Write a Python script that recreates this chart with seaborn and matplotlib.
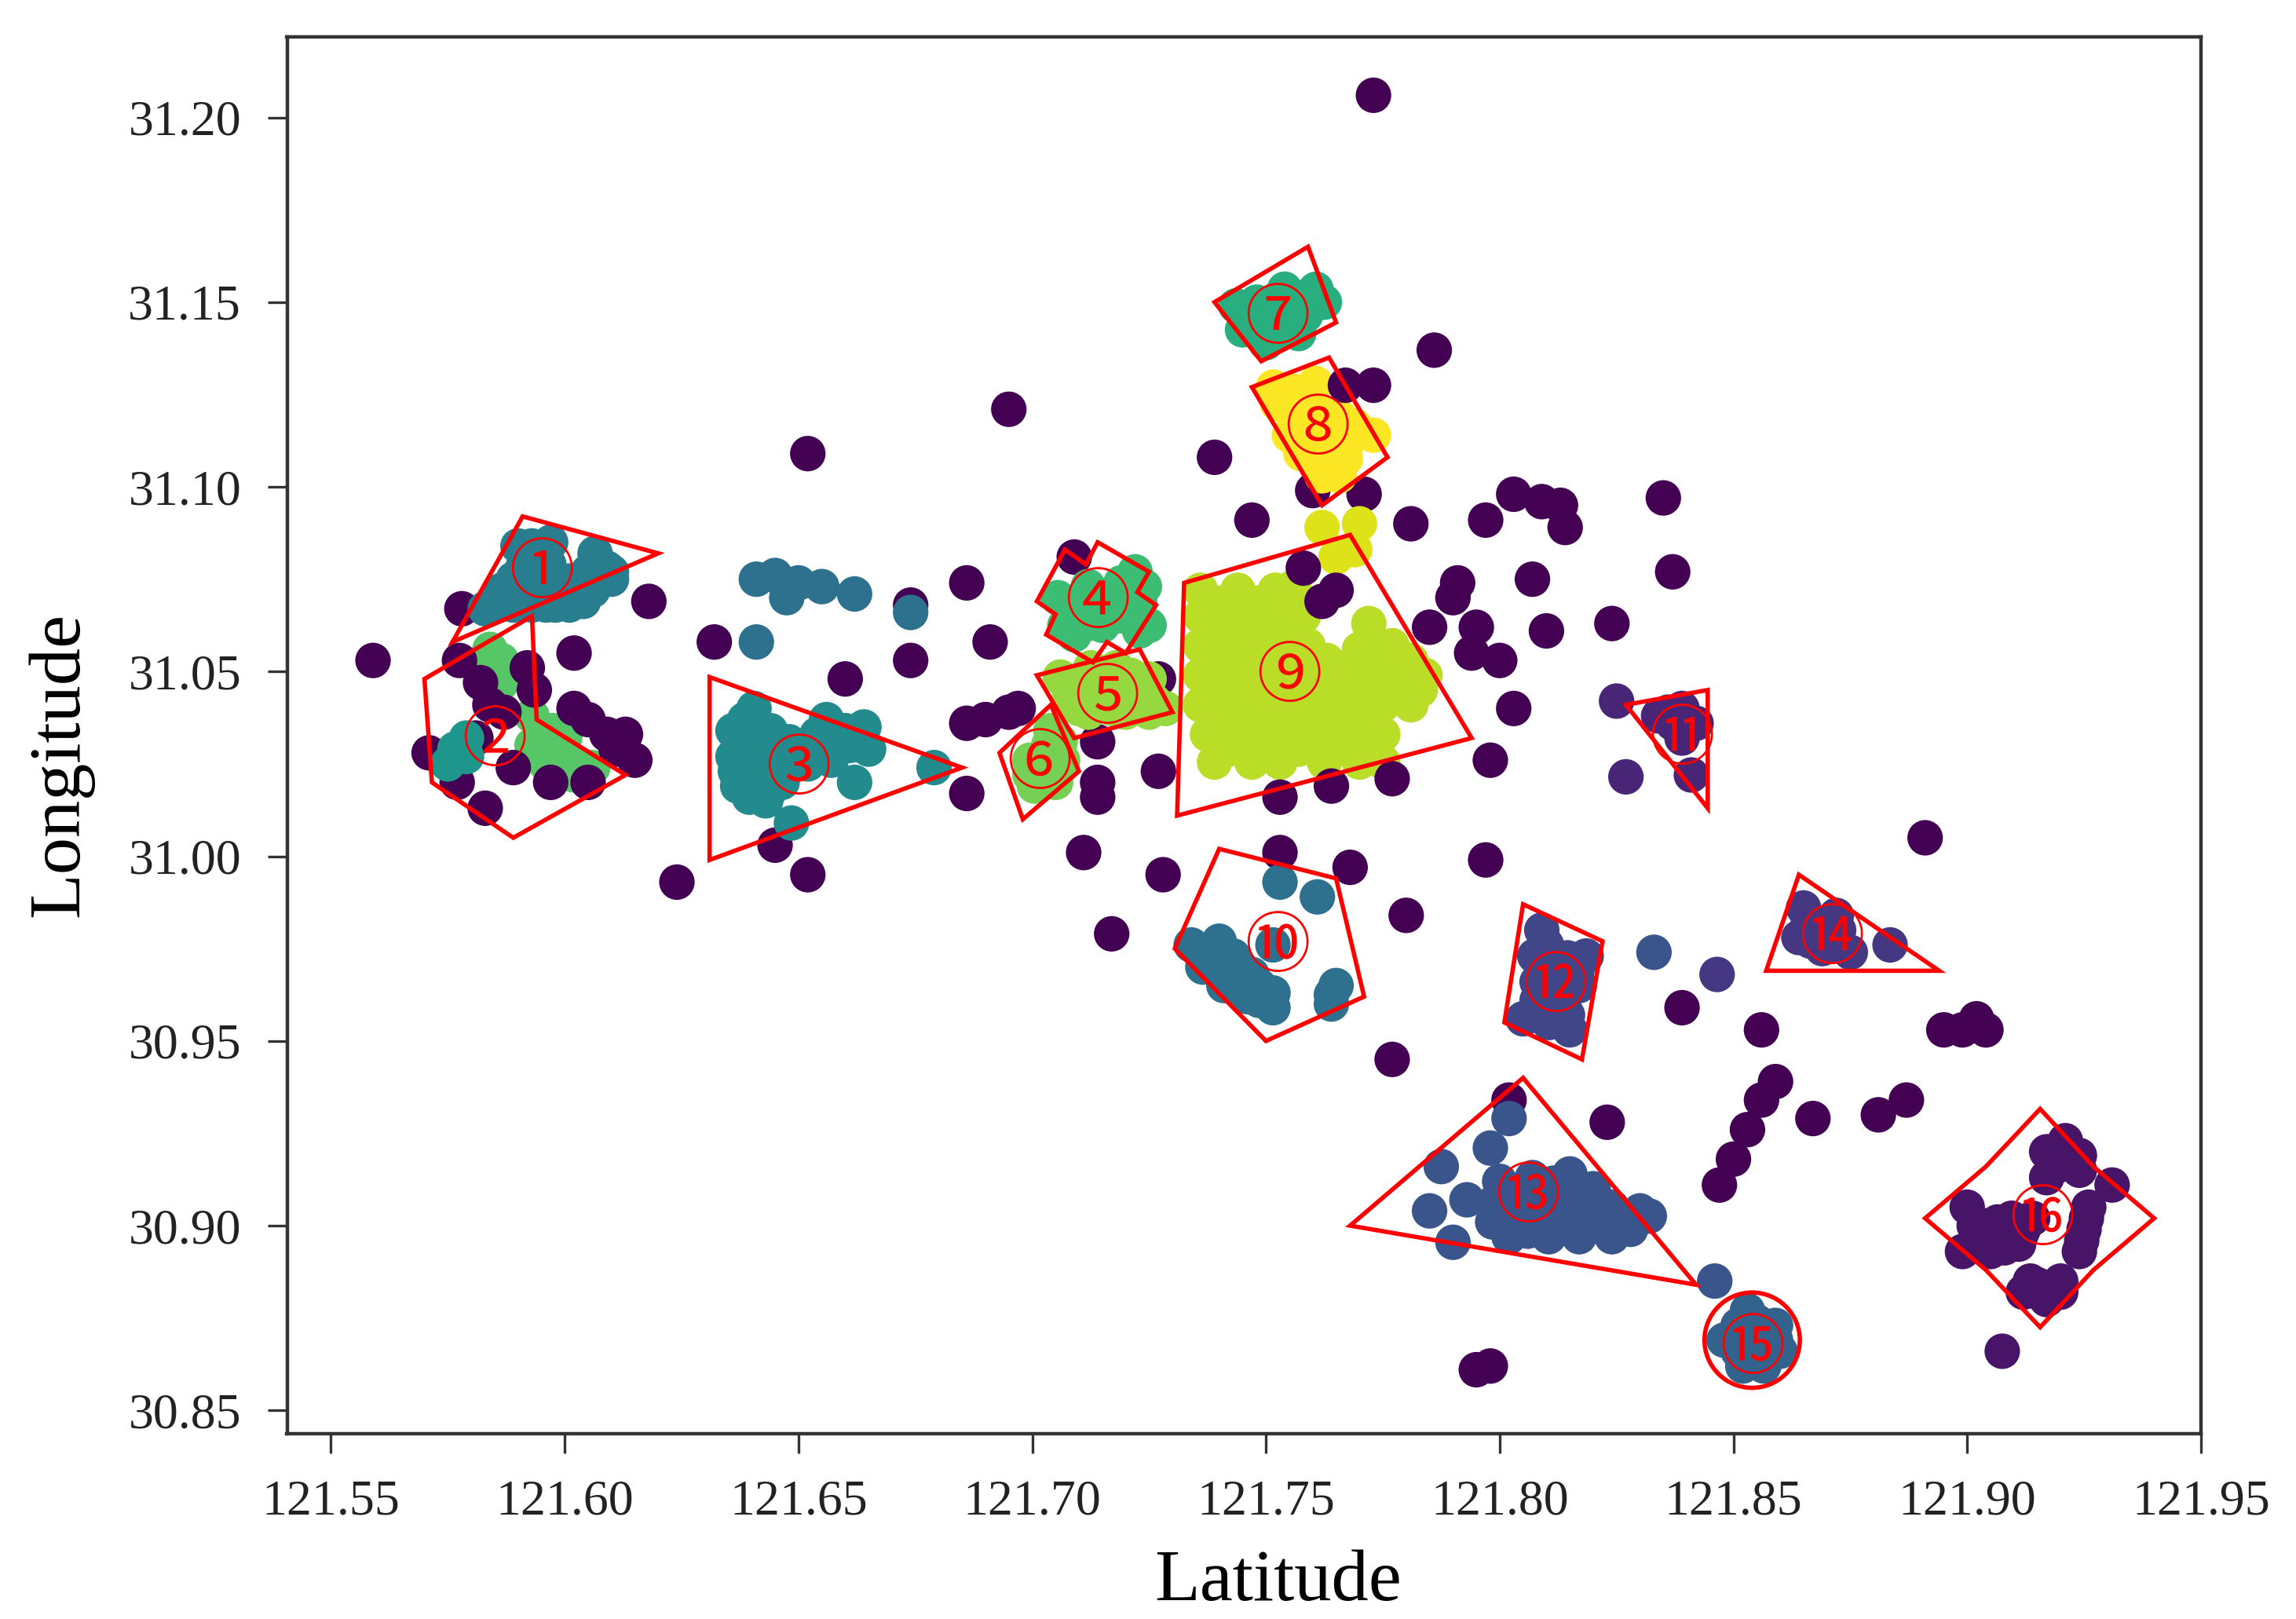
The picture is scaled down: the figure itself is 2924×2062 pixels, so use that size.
import pandas as pd
import seaborn as sns
import matplotlib.pyplot as plt
from matplotlib.patches import Polygon, Ellipse

# points as (longitude axis value, latitude axis value)
noise_back = [(121.760, 31.099), (121.771, 31.098), (121.802, 30.934)]
noise = [
    (121.559, 31.053), (121.773, 31.206), (121.786, 31.137), (121.773, 31.1275), (121.767, 31.1275),
    (121.695, 31.121), (121.652, 31.109), (121.739, 31.108), (121.747, 31.091), (121.781, 31.090),
    (121.797, 31.091), (121.803, 31.098), (121.809, 31.096), (121.813, 31.095), (121.814, 31.089),
    (121.835, 31.097), (121.837, 31.077), (121.807, 31.075), (121.810, 31.061), (121.824, 31.063),
    (121.791, 31.074), (121.790, 31.070), (121.795, 31.062), (121.785, 31.062), (121.794, 31.055),
    (121.800, 31.053), (121.803, 31.040), (121.798, 31.026), (121.618, 31.069), (121.602, 31.055),
    (121.578, 31.067), (121.632, 31.058), (121.660, 31.048), (121.674, 31.053), (121.674, 31.068),
    (121.686, 31.074), (121.691, 31.058), (121.709, 31.081), (121.686, 31.036), (121.690, 31.037),
    (121.695, 31.039), (121.697, 31.040), (121.686, 31.017), (121.645, 31.003), (121.652, 30.995),
    (121.624, 30.993), (121.714, 31.031), (121.714, 31.020), (121.714, 31.016), (121.727, 31.023),
    (121.727, 31.048), (121.711, 31.001), (121.728, 30.995), (121.717, 30.979), (121.753, 31.016),
    (121.764, 31.019), (121.777, 31.021), (121.753, 31.001), (121.768, 30.997), (121.780, 30.984),
    (121.797, 30.999), (121.777, 30.945), (121.839, 30.959), (121.856, 30.953), (121.859, 30.939),
    (121.856, 30.934), (121.853, 30.926), (121.850, 30.918), (121.847, 30.911), (121.867, 30.929),
    (121.881, 30.930), (121.887, 30.934), (121.823, 30.928), (121.891, 31.005), (121.895, 30.953),
    (121.899, 30.953), (121.902, 30.956), (121.904, 30.953), (121.795, 30.861), (121.798, 30.862),
    (121.758, 31.078), (121.762, 31.069), (121.765, 31.072),
    (121.5775, 31.053), (121.582, 31.047), (121.584, 31.041), (121.587, 31.039), (121.581, 31.032),
    (121.592, 31.051), (121.5935, 31.045), (121.602, 31.040), (121.605, 31.037), (121.609, 31.033),
    (121.613, 31.033), (121.615, 31.026), (121.611, 31.029), (121.589, 31.024), (121.597, 31.020),
    (121.605, 31.020), (121.577, 31.020), (121.571, 31.028), (121.583, 31.013),
]
area_1 = [
    (121.590, 31.084), (121.597, 31.085), (121.6065, 31.082), (121.610, 31.077), (121.589, 31.075),
    (121.583, 31.067), (121.589, 31.068), (121.596, 31.068), (121.604, 31.069), (121.606, 31.072),
    (121.595, 31.077), (121.591, 31.078), (121.605, 31.077), (121.610, 31.075), (121.593, 31.084),
    (121.592, 31.079), (121.5966, 31.079), (121.5935, 31.073), (121.598, 31.072), (121.603, 31.071),
    (121.586, 31.068), (121.598, 31.068), (121.609, 31.078), (121.601, 31.0745), (121.5865, 31.072),
    (121.593, 31.068), (121.601, 31.068),
]
area_2 = [
    (121.584, 31.056), (121.584, 31.051), (121.5865, 31.047), (121.593, 31.038), (121.595, 31.033),
    (121.597, 31.029), (121.603, 31.025), (121.605, 31.023), (121.596, 31.025), (121.602, 31.022),
    (121.5865, 31.053), (121.5845, 31.0475), (121.593, 31.030), (121.599, 31.029), (121.601, 31.026),
    (121.597, 31.0235), (121.606, 31.024), (121.5975, 31.034), (121.600, 31.032),
]
area_2_teal = [(121.579, 31.027), (121.575, 31.025), (121.579, 31.032), (121.5765, 31.029)]
area_3 = [
    (121.6405, 31.040), (121.636, 31.034), (121.636, 31.027), (121.637, 31.019), (121.643, 31.015),
    (121.6395, 31.016), (121.644, 31.028), (121.6465, 31.020), (121.650, 31.029), (121.656, 31.037),
    (121.656, 31.031), (121.664, 31.035), (121.665, 31.029), (121.662, 31.020), (121.679, 31.024),
    (121.6485, 31.009), (121.652, 31.025), (121.640, 31.026), (121.640, 31.033), (121.644, 31.034),
    (121.648, 31.031), (121.640, 31.021), (121.644, 31.023), (121.648, 31.024), (121.653, 31.028),
    (121.657, 31.026), (121.661, 31.030), (121.654, 31.033), (121.644, 31.018), (121.660, 31.034),
    (121.6365, 31.023), (121.6385, 31.037),
]
area_3_upper = [
    (121.641, 31.075), (121.645, 31.076), (121.6475, 31.070), (121.650, 31.074), (121.655, 31.073),
    (121.662, 31.071), (121.674, 31.066), (121.641, 31.058),
]
area_4 = [
    (121.722, 31.077), (121.712, 31.073), (121.7055, 31.070), (121.707, 31.0625), (121.709, 31.060),
    (121.715, 31.0625), (121.725, 31.0625), (121.723, 31.069), (121.717, 31.069), (121.711, 31.067),
    (121.7215, 31.064), (121.708, 31.066), (121.713, 31.068), (121.718, 31.065), (121.712, 31.063),
    (121.721, 31.072), (121.724, 31.073), (121.719, 31.074), (121.723, 31.061),
]
area_5 = [
    (121.706, 31.0485), (121.7125, 31.051), (121.718, 31.051), (121.725, 31.048), (121.708, 31.043),
    (121.712, 31.039), (121.717, 31.040), (121.725, 31.039), (121.718, 31.045), (121.724, 31.044),
    (121.709, 31.047), (121.713, 31.044), (121.717, 31.046), (121.721, 31.049), (121.721, 31.042),
    (121.715, 31.041), (121.710, 31.040), (121.712, 31.047), (121.726, 31.042), (121.7285, 31.040),
    (121.720, 31.039),
]
area_6 = [
    (121.704, 31.034), (121.6995, 31.026), (121.7065, 31.026), (121.7005, 31.019), (121.705, 31.020),
    (121.7035, 31.024), (121.7035, 31.030), (121.6995, 31.022), (121.706, 31.031),
]
area_7 = [
    (121.7436, 31.149), (121.754, 31.1535), (121.7607, 31.1535), (121.748, 31.150), (121.745, 31.1425),
    (121.750, 31.139), (121.757, 31.1415), (121.756, 31.148), (121.751, 31.146), (121.7475, 31.145),
    (121.752, 31.1505), (121.7475, 31.1475), (121.754, 31.144), (121.7585, 31.1465), (121.755, 31.150),
    (121.7585, 31.1515), (121.7625, 31.150), (121.752, 31.1415), (121.7465, 31.143),
]
area_8 = [
    (121.7516, 31.127), (121.7606, 31.128), (121.755, 31.122), (121.755, 31.114), (121.7616, 31.120),
    (121.7657, 31.119), (121.773, 31.114), (121.768, 31.113), (121.767, 31.1076), (121.7607, 31.111),
    (121.7657, 31.103), (121.762, 31.107), (121.7555, 31.126), (121.758, 31.123), (121.758, 31.117),
    (121.7525, 31.1225), (121.7575, 31.109), (121.7645, 31.1115), (121.769, 31.1165), (121.763, 31.1155),
    (121.762, 31.103),
]
area_8_lower = [(121.762, 31.089), (121.770, 31.090), (121.765, 31.081), (121.769, 31.083)]
area_9 = [
    (121.736, 31.072), (121.744, 31.072), (121.752, 31.072), (121.756, 31.073),
    (121.736, 31.065), (121.744, 31.065), (121.752, 31.065), (121.758, 31.065),
    (121.736, 31.057), (121.744, 31.057), (121.752, 31.057), (121.759, 31.057),
    (121.736, 31.049), (121.744, 31.049), (121.752, 31.049), (121.759, 31.049), (121.767, 31.049),
    (121.775, 31.049), (121.781, 31.049),
    (121.736, 31.041), (121.744, 31.041), (121.752, 31.041), (121.759, 31.041), (121.767, 31.041),
    (121.775, 31.041), (121.781, 31.041),
    (121.7375, 31.033), (121.745, 31.033), (121.753, 31.033), (121.761, 31.033), (121.769, 31.033),
    (121.775, 31.033),
    (121.739, 31.0255), (121.747, 31.0255), (121.753, 31.0255), (121.7625, 31.0255), (121.770, 31.0255),
    (121.775, 31.0255),
    (121.772, 31.063), (121.770, 31.056), (121.777, 31.057), (121.781, 31.053), (121.784, 31.049),
    (121.740, 31.0685), (121.748, 31.0685), (121.754, 31.0685),
    (121.740, 31.061), (121.748, 31.061), (121.755, 31.061),
    (121.740, 31.053), (121.748, 31.053), (121.755, 31.053), (121.763, 31.053), (121.771, 31.053), (121.778, 31.053),
    (121.740, 31.045), (121.748, 31.045), (121.755, 31.045), (121.763, 31.045), (121.771, 31.045), (121.778, 31.045),
    (121.783, 31.045),
    (121.740, 31.037), (121.748, 31.037), (121.755, 31.037), (121.763, 31.037), (121.771, 31.037),
    (121.742, 31.029), (121.749, 31.029), (121.757, 31.029), (121.765, 31.029), (121.772, 31.029),
]
area_10 = [
    (121.734, 30.976), (121.740, 30.977), (121.7365, 30.970), (121.743, 30.973), (121.741, 30.965),
    (121.747, 30.968), (121.7515, 30.959), (121.7515, 30.976), (121.753, 30.993), (121.761, 30.989),
    (121.765, 30.965), (121.764, 30.960), (121.746, 30.962), (121.7375, 30.973), (121.740, 30.971),
    (121.7445, 30.970), (121.7445, 30.965), (121.7485, 30.961), (121.7485, 30.965), (121.743, 30.968),
    (121.7515, 30.963), (121.764, 30.9625),
]
area_11 = [
    (121.825, 31.042), (121.827, 31.0215), (121.834, 31.038), (121.839, 31.040), (121.842, 31.036),
    (121.839, 31.032), (121.841, 31.022), (121.836, 31.039), (121.837, 31.036), (121.840, 31.036),
]
area_12 = [
    (121.809, 30.980), (121.8075, 30.973), (121.8185, 30.973), (121.8135, 30.968), (121.807, 30.957),
    (121.815, 30.953), (121.8125, 30.959), (121.817, 30.965), (121.808, 30.966), (121.805, 30.956),
    (121.810, 30.976), (121.811, 30.971), (121.8165, 30.969), (121.8115, 30.964), (121.814, 30.962),
    (121.8105, 30.960), (121.808, 30.961), (121.8105, 30.955), (121.8145, 30.957), (121.8145, 30.9725),
]
area_13 = [
    (121.802, 30.929), (121.798, 30.921), (121.7875, 30.916), (121.785, 30.904), (121.790, 30.8955),
    (121.793, 30.907), (121.800, 30.912), (121.807, 30.913), (121.815, 30.914), (121.820, 30.910),
    (121.824, 30.905), (121.830, 30.904), (121.832, 30.9026), (121.824, 30.897), (121.817, 30.897),
    (121.8105, 30.897), (121.802, 30.897), (121.802, 30.905), (121.808, 30.905), (121.815, 30.906),
    (121.828, 30.899), (121.846, 30.885), (121.833, 30.974), (121.804, 30.901), (121.811, 30.901),
    (121.818, 30.901), (121.803, 30.9085), (121.811, 30.9085), (121.818, 30.9085), (121.8265, 30.9015),
    (121.821, 30.9015), (121.806, 30.8985), (121.7985, 30.906), (121.7985, 30.901), (121.8115, 30.9115),
]
area_14 = [
    (121.865, 30.986), (121.872, 30.984), (121.864, 30.978), (121.869, 30.975), (121.875, 30.974),
    (121.8725, 30.980), (121.8835, 30.976), (121.8465, 30.968), (121.868, 30.981), (121.866, 30.982),
    (121.871, 30.978), (121.8665, 30.977), (121.8725, 30.976),
]
area_15 = [
    (121.853, 30.877), (121.859, 30.873), (121.848, 30.869), (121.860, 30.866), (121.852, 30.862),
    (121.8565, 30.862), (121.853, 30.870), (121.858, 30.868), (121.851, 30.873), (121.855, 30.874),
    (121.851, 30.866), (121.8565, 30.866), (121.8555, 30.870), (121.850, 30.8695), (121.859, 30.869),
    (121.854, 30.864),
]
area_16 = [
    (121.921, 30.923), (121.917, 30.920), (121.924, 30.919), (121.917, 30.913), (121.924, 30.915),
    (121.931, 30.911), (121.926, 30.905), (121.924, 30.893), (121.925, 30.899), (121.900, 30.905),
    (121.899, 30.893), (121.9035, 30.900), (121.9095, 30.902), (121.911, 30.895), (121.905, 30.893),
    (121.914, 30.902), (121.912, 30.882), (121.920, 30.885), (121.917, 30.880), (121.915, 30.884),
    (121.9075, 30.866), (121.920, 30.917), (121.921, 30.919), (121.919, 30.916), (121.903, 30.8975),
    (121.907, 30.898), (121.9015, 30.900), (121.9065, 30.901), (121.912, 30.899), (121.9115, 30.8975),
    (121.908, 30.894), (121.902, 30.895), (121.9255, 30.902), (121.9245, 30.896), (121.915, 30.882),
    (121.920, 30.882), (121.9135, 30.885), (121.9175, 30.883),
]

# drawing order and cluster id (ids run along viridis)
groups = [
    (noise_back, 0), (area_2, 14), (area_9, 17), (area_8_lower, 18), (area_8, 19), (noise, 0),
    (area_16, 1), (area_11, 2), (area_14, 3), (area_12, 4), (area_13, 5), (area_15, 6), (area_10, 7),
    (area_3_upper, 7), (area_1, 8), (area_3, 9), (area_2_teal, 10), (area_7, 12), (area_4, 13),
    (area_6, 15), (area_5, 16),
]

# red outlines of the 16 areas
outlines = [
    [(121.591, 31.092), (121.620, 31.082), (121.576, 31.058)],
    [(121.593, 31.065), (121.570, 31.048), (121.5716, 31.020), (121.589, 31.005), (121.613, 31.022), (121.594, 31.037)],
    [(121.631, 31.0485), (121.685, 31.024), (121.631, 30.999)],
    [(121.714, 31.085), (121.725, 31.077), (121.7225, 31.0715), (121.7265, 31.068), (121.720, 31.055), (121.716, 31.058),
     (121.713, 31.0525), (121.703, 31.060), (121.705, 31.0655), (121.701, 31.069), (121.707, 31.083), (121.7115, 31.079)],
    [(121.701, 31.049), (121.723, 31.056), (121.730, 31.039), (121.709, 31.032)],
    [(121.704, 31.041), (121.710, 31.023), (121.698, 31.010), (121.693, 31.028)],
    [(121.739, 31.150), (121.759, 31.165), (121.765, 31.1445), (121.749, 31.134)],
    [(121.747, 31.127), (121.7635, 31.135), (121.776, 31.108), (121.762, 31.095)],
    [(121.7325, 31.074), (121.768, 31.087), (121.794, 31.032), (121.731, 31.011)],
    [(121.740, 31.002), (121.765, 30.994), (121.771, 30.962), (121.750, 30.950), (121.7305, 30.975)],
    [(121.827, 31.041), (121.8445, 31.045), (121.8445, 31.013)],
    [(121.805, 30.987), (121.822, 30.977), (121.8176, 30.945), (121.801, 30.955)],
    [(121.805, 30.940), (121.842, 30.884), (121.768, 30.900)],
    [(121.864, 30.995), (121.894, 30.969), (121.857, 30.969)],
    [],
    [(121.9156, 30.9316), (121.927, 30.916), (121.940, 30.902), (121.927, 30.888), (121.9156, 30.8725),
     (121.904, 30.888), (121.891, 30.902), (121.904, 30.916)],
]
circle_15 = (121.854, 30.869)
area_names = ["①", "②", "③", "④", "⑤", "⑥", "⑦", "⑧", "⑨", "⑩", "⑪", "⑫", "⑬", "⑭", "⑮", "⑯"]
name_spots = [
    (121.595, 31.077), (121.585, 31.0315), (121.650, 31.024), (121.714, 31.069), (121.716, 31.043), (121.7015, 31.0255),
    (121.7525, 31.146), (121.761, 31.116), (121.755, 31.049), (121.7525, 30.976), (121.839, 31.032), (121.812, 30.965),
    (121.806, 30.908), (121.871, 30.978), (121.854, 30.867), (121.916, 30.902),
]
xticks = [121.55, 121.60, 121.65, 121.70, 121.75, 121.80, 121.85, 121.90, 121.95]
yticks = [30.85, 30.90, 30.95, 31.00, 31.05, 31.10, 31.15, 31.20]

rows = []
for pts, cid in groups:
    for lon, lat in pts:
        rows.append({"lon": lon, "lat": lat, "cluster": cid})
df = pd.DataFrame(rows)

sns.set_style("ticks")
plt.rcParams["font.family"] = ["Liberation Serif", "DejaVu Serif"]

fig = plt.figure(figsize=(14.62, 10.31), dpi=200)
ax = fig.add_axes([0.125, 0.1145, 0.8336, 0.8627])

sns.scatterplot(data=df, x="lon", y="lat", hue="cluster", palette="viridis", hue_norm=(0, 19),
                s=265, linewidth=0, legend=False, ax=ax)

for pts in outlines:
    if pts:
        ax.add_patch(Polygon(pts, closed=True, fill=False, edgecolor="#ff0000", linewidth=2.0, joinstyle="miter", zorder=5))
ax.add_patch(Ellipse(circle_15, 0.0204, 0.0258, fill=False, edgecolor="#ff0000", linewidth=2.0, zorder=5))

for name, (lon, lat) in zip(area_names, name_spots):
    ax.text(lon, lat - 0.0006, name, color="#ff0000", fontsize=30, ha="center", va="center",
            family=["Noto Sans CJK SC", "DejaVu Sans"], fontweight="light", zorder=6)

ax.set_xlim(121.5406, 121.95)
ax.set_ylim(30.8437, 31.2218)
ax.set_xticks(xticks)
ax.set_xticklabels([f"{v:.2f}" for v in xticks])
ax.set_yticks(yticks)
ax.set_yticklabels([f"{v:.2f}" for v in yticks])
ax.tick_params(length=9, width=1.2, labelsize=23, labelcolor="#222222", color="#333333", pad=12)
for spine in ax.spines.values():
    spine.set_linewidth(1.6)
    spine.set_color("#333333")

ax.set_xlabel("Latitude", fontsize=34, color="black", labelpad=11)
ax.set_ylabel("Longitude", fontsize=34, color="black", labelpad=16)
ax.xaxis.label.set_x(0.518)
ax.yaxis.label.set_y(0.479)

fig.savefig("out.png")
